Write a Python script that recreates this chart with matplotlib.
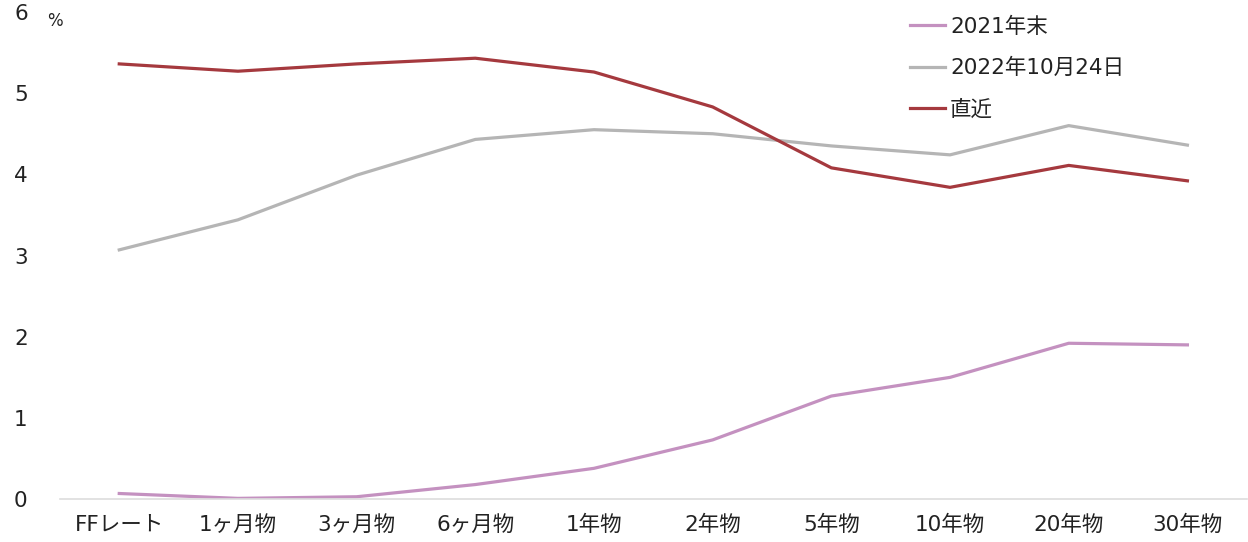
import matplotlib.pyplot as plt

plt.rcParams['font.family'] = ['DejaVu Sans', 'Noto Sans CJK JP']

categories = ['FFレート', '1ヶ月物', '3ヶ月物', '6ヶ月物', '1年物', '2年物',
              '5年物', '10年物', '20年物', '30年物']
end_2021 = [0.07, 0.01, 0.03, 0.18, 0.38, 0.73, 1.27, 1.50, 1.92, 1.90]
oct_2022 = [3.07, 3.44, 3.99, 4.43, 4.55, 4.50, 4.35, 4.24, 4.60, 4.36]
latest = [5.36, 5.27, 5.36, 5.43, 5.26, 4.83, 4.08, 3.84, 4.11, 3.92]

fig = plt.figure(figsize=(12.48, 5.42), dpi=100)
ax = fig.add_axes([0.048, 0.079, 0.951, 0.899])

x = range(len(categories))
ax.plot(x, end_2021, color='#C491C0', lw=2.3, label='2021年末')
ax.plot(x, oct_2022, color='#B5B5B5', lw=2.3, label='2022年10月24日')
ax.plot(x, latest, color='#A5393E', lw=2.3, label='直近')

ax.set_xlim(-0.5, 9.5)
ax.set_ylim(0, 6)
ax.set_yticks(range(7))
ax.set_xticks(list(x))
ax.set_xticklabels(categories)
ax.tick_params(axis='both', length=0, labelsize=15.5, colors='#222222')
ax.tick_params(axis='y', pad=33)
ax.tick_params(axis='x', pad=11)
for lbl in ax.get_yticklabels():
    lbl.set_horizontalalignment('left')
for s in ['top', 'right', 'left']:
    ax.spines[s].set_visible(False)
ax.spines['bottom'].set_color('#DDDDDD')
ax.spines['bottom'].set_linewidth(1.2)

fig.text(0.044, 0.962, '%', fontsize=12, color='#222222', ha='center', va='center')

leg = ax.legend(loc='upper left', bbox_to_anchor=(0.70, 1.03), frameon=False,
                fontsize=15.5, handlelength=1.6, handletextpad=0.25, labelspacing=0.97)
for t in leg.get_texts():
    t.set_color('#222222')

fig.savefig('out.png', dpi=100)
